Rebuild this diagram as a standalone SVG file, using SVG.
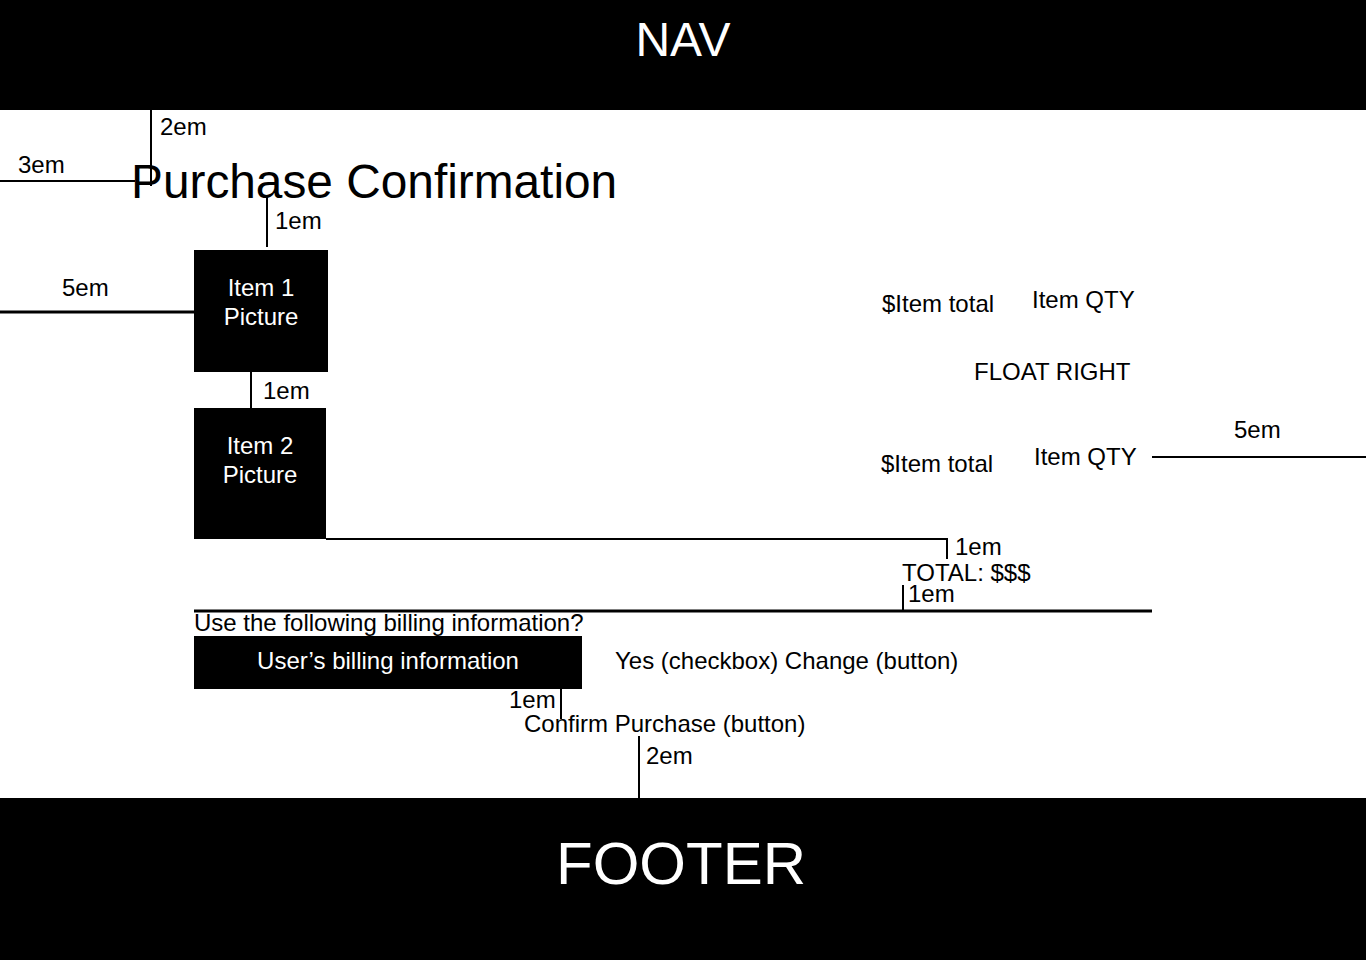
<svg xmlns="http://www.w3.org/2000/svg" width="1366" height="960" viewBox="0 0 1366 960">
<style>
text{font-family:"Liberation Sans",Arial,sans-serif;fill:#000}
.s{font-size:24px}
.w{fill:#fff}
.c{text-anchor:middle}
.ln{stroke:#000;stroke-width:2;fill:none}
.th{stroke:#000;stroke-width:3;fill:none}
.box{fill:#000}
</style>
<rect width="1366" height="960" fill="#fff"/>
<g id="nav"><rect class="box" x="0" y="0" width="1366" height="110"/><text class="w c" x="683" y="56" font-size="48">NAV</text></g>
<g id="footer"><rect class="box" x="0" y="798" width="1366" height="162"/><text class="w c" x="681" y="884" font-size="60">FOOTER</text></g>
<g id="title"><text x="131" y="198" font-size="47.8">Purchase Confirmation</text></g>
<g id="item1"><rect class="box" x="194" y="250" width="134" height="122"/><text class="s w c" x="261" y="296">Item 1</text><text class="s w c" x="261" y="325">Picture</text></g>
<g id="item2"><rect class="box" x="194" y="408" width="132" height="131"/><text class="s w c" x="260" y="454">Item 2</text><text class="s w c" x="260" y="483">Picture</text></g>
<g id="row1"><text class="s" x="882" y="312">$Item total</text><text class="s" x="1032" y="308">Item QTY</text></g>
<g id="floatright"><text class="s" x="974" y="380">FLOAT RIGHT</text></g>
<g id="row2"><text class="s" x="881" y="472">$Item total</text><text class="s" x="1034" y="465">Item QTY</text></g>
<g id="total"><text class="s" x="902" y="581">TOTAL: $$$</text></g>
<g id="billing-q"><text class="s" x="194" y="631">Use the following billing information?</text></g>
<g id="billing"><rect class="box" x="194" y="636" width="388" height="53"/><text class="s w c" x="388" y="669">User’s billing information</text></g>
<g id="yes"><text class="s" x="615" y="669">Yes (checkbox) Change (button)</text></g>
<g id="confirm"><text class="s" x="524" y="732">Confirm Purchase (button)</text></g>
<g id="connectors">
<path class="ln" d="M151 110V186"/>
<path class="ln" d="M0 181H135"/>
<path class="ln" d="M267 196V247"/>
<path class="th" d="M0 312H194"/>
<path class="ln" d="M251 372V408"/>
<path class="ln" d="M326 539H947V559"/>
<path class="ln" d="M903 585V611"/>
<path class="th" d="M194 611H1152"/>
<path class="ln" d="M1152 457H1366"/>
<path class="ln" d="M561 689V719"/>
<path class="ln" d="M639 736V798"/>
</g>
<g id="dims">
<text class="s" x="160" y="135">2em</text>
<text class="s" x="18" y="173">3em</text>
<text class="s" x="275" y="229">1em</text>
<text class="s" x="62" y="296">5em</text>
<text class="s" x="263" y="399">1em</text>
<text class="s" x="1234" y="438">5em</text>
<text class="s" x="955" y="555">1em</text>
<text class="s" x="908" y="602">1em</text>
<text class="s" x="509" y="708">1em</text>
<text class="s" x="646" y="764">2em</text>
</g>
</svg>
